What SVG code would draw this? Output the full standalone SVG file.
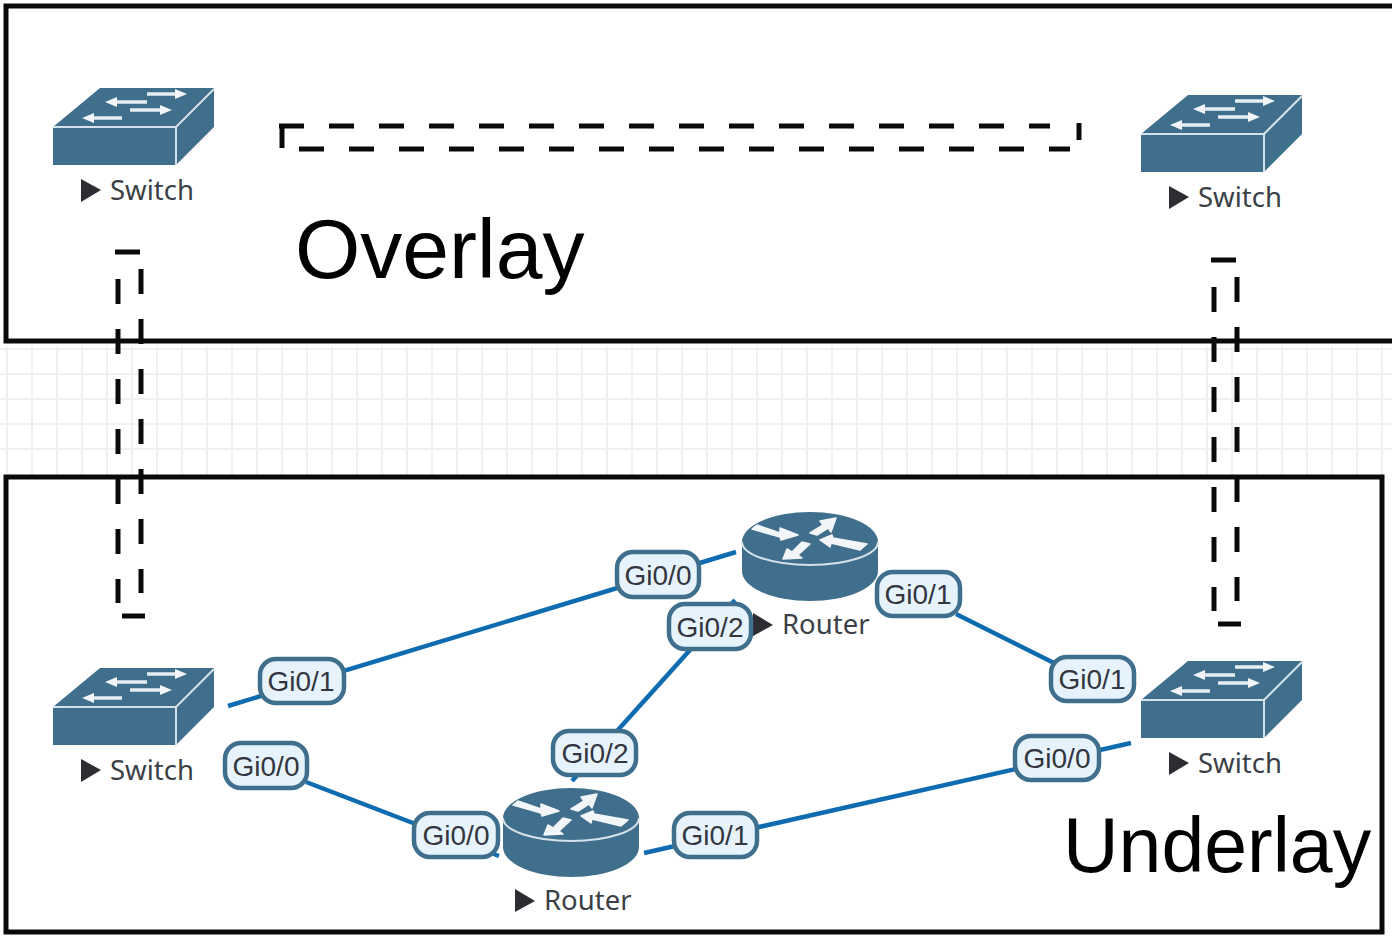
<svg xmlns="http://www.w3.org/2000/svg" width="1392" height="937" viewBox="0 0 1392 937">
<style>
.grid{stroke:#f0f0f4;stroke-width:2;fill:none}
.frame{fill:none;stroke:#0a0a0a;stroke-width:5}
.tunnel{fill:none;stroke:#0a0a0a;stroke-width:5;stroke-dasharray:25 25}
.solid{fill:none;stroke:#0a0a0a;stroke-width:5}
.link{stroke:#0f6cb0;stroke-width:4.5;fill:none}
.body{fill:#3f6f8c}
.edge{fill:none;stroke:#d5e2ea;stroke-width:2}
.arrow{fill:none;stroke:#e4edf2;stroke-width:3.5}
.head{fill:#f2f6f8}
.fat{fill:#f2f6f8;stroke:#f2f6f8;stroke-width:1.5;stroke-linejoin:round}
.name{font:27.5px "Noto Sans",sans-serif;fill:#3b3f46}
.tri{fill:#2b2d33}
.pill rect{fill:#e6f3fd;stroke:#3f6f8c;stroke-width:4.5}
.pill text{font:28px "Liberation Sans",Arial,sans-serif;fill:#33363f;text-anchor:middle}
.title{font-family:"Liberation Sans",Arial,sans-serif;fill:#000}
</style>
<defs>
<g id="switch-icon">
<path class="body" d="M0 39L47 0H161V39L123 77H0Z"/>
<path class="edge" d="M0 39H123L161 1M123 39V77"/>
<path class="arrow" d="M94 6H126M62 14H94M77 22H110M39 30H69"/>
<path class="head" d="M134 6L122 1V11ZM52 14L64 9V19ZM119 22L107 17V27ZM29 30L41 25V35Z"/>
</g>
<g id="router-icon">
<path class="body" d="M0 30A68 30 0 0 1 136 30V59A68 30 0 0 1 0 59Z"/>
<path class="edge" d="M0 30A68 23 0 0 0 136 30"/>
<path class="fat" d="M10 17L15 13L38 21L38 16L56 23L39 28L38 25ZM94 6L78 9L81 13L68 21L75 23L86 16L89 20ZM78 28L90 23L91 26L125 32L118 38L89 31L88 35ZM41 47L45 37L50 40L60 30L68 32L56 43L60 46Z"/>
</g>
</defs>
<g id="background-grid" class="grid">
<path d="M7 346V476M32 346V476M57 346V476M82 346V476M107 346V476M132 346V476M157 346V476M182 346V476M207 346V476M232 346V476M257 346V476M282 346V476M307 346V476M332 346V476M357 346V476M382 346V476M407 346V476M432 346V476M457 346V476M482 346V476M507 346V476M532 346V476M557 346V476M582 346V476M607 346V476M632 346V476M657 346V476M682 346V476M707 346V476M732 346V476M757 346V476M782 346V476M807 346V476M832 346V476M857 346V476M882 346V476M907 346V476M932 346V476M957 346V476M982 346V476M1007 346V476M1032 346V476M1057 346V476M1082 346V476M1107 346V476M1132 346V476M1157 346V476M1182 346V476M1207 346V476M1232 346V476M1257 346V476M1282 346V476M1307 346V476M1332 346V476M1357 346V476M1382 346V476"/>
<path d="M0 349H1392M0 374H1392M0 399H1392M0 424H1392M0 449H1392"/>
</g>
<g id="connectors">
<path class="link" d="M228 706L736 552"/>
<path class="link" d="M306 782L499 856"/>
<path class="link" d="M572 781L735 600"/>
<path class="link" d="M644 853L1131 743"/>
<path class="link" d="M956 614L1056 664"/>
</g>
<g id="overlay-region">
<rect class="frame" x="6" y="6" width="1392" height="335"/>
<text class="title" x="295" y="278" font-size="84">Overlay</text>
</g>
<g id="underlay-region">
<rect class="frame" x="6" y="477" width="1376" height="455"/>
<text class="title" x="1063" y="872" font-size="77">Underlay</text>
</g>
<g id="tunnels">
<!-- horizontal tunnel between the overlay switches -->
<path class="tunnel" d="M279 126H1050"/>
<path class="solid" d="M282 124V148"/>
<path class="tunnel" d="M299 149H1070"/>
<path class="solid" d="M1079 123V140"/>
<!-- vertical tunnel on the left -->
<path class="solid" d="M115 252H140M122 616H145"/>
<path class="tunnel" d="M118 279V603"/>
<path class="tunnel" d="M141 269V593"/>
<!-- vertical tunnel on the right -->
<path class="solid" d="M1211 260H1236M1218 624H1241"/>
<path class="tunnel" d="M1214 287V611"/>
<path class="tunnel" d="M1237 277V601"/>
</g>
<g id="switch-overlay-left"><use href="#switch-icon" x="53" y="88"/><path class="tri" d="M81 179L101 190L81 202Z"/><text class="name" x="110" y="200">Switch</text></g>
<g id="switch-overlay-right"><use href="#switch-icon" x="1141" y="95"/><path class="tri" d="M1169 186L1189 197L1169 209Z"/><text class="name" x="1198" y="207">Switch</text></g>
<g id="switch-underlay-left"><use href="#switch-icon" x="53" y="668"/><path class="tri" d="M81 759L101 770L81 782Z"/><text class="name" x="110" y="780">Switch</text></g>
<g id="switch-underlay-right"><use href="#switch-icon" x="1141" y="661"/><path class="tri" d="M1169 752L1189 763L1169 775Z"/><text class="name" x="1198" y="773">Switch</text></g>
<g id="router-top"><use href="#router-icon" x="742" y="512"/><path class="tri" d="M753 613L773 625L753 636Z"/><text class="name" x="782" y="634">Router</text></g>
<g id="router-bottom"><use href="#router-icon" x="503" y="788"/><path class="tri" d="M515 889L535 901L515 912Z"/><text class="name" x="544" y="910">Router</text></g>
<g id="port-labels">
<g class="pill"><rect x="260" y="659" width="84" height="44" rx="16"/><text x="301" y="691">Gi0/1</text></g>
<g class="pill"><rect x="225" y="743" width="82" height="45" rx="16"/><text x="266" y="776">Gi0/0</text></g>
<g class="pill"><rect x="414" y="813" width="84" height="44" rx="16"/><text x="456" y="845">Gi0/0</text></g>
<g class="pill"><rect x="553" y="731" width="83" height="44" rx="16"/><text x="595" y="763">Gi0/2</text></g>
<g class="pill"><rect x="674" y="813" width="83" height="44" rx="16"/><text x="715" y="845">Gi0/1</text></g>
<g class="pill"><rect x="617" y="552" width="82" height="45" rx="16"/><text x="658" y="585">Gi0/0</text></g>
<g class="pill"><rect x="669" y="604" width="82" height="45" rx="16"/><text x="710" y="637">Gi0/2</text></g>
<g class="pill"><rect x="877" y="572" width="83" height="44" rx="16"/><text x="918" y="604">Gi0/1</text></g>
<g class="pill"><rect x="1051" y="657" width="83" height="44" rx="16"/><text x="1092" y="689">Gi0/1</text></g>
<g class="pill"><rect x="1015" y="736" width="84" height="44" rx="16"/><text x="1057" y="768">Gi0/0</text></g>
</g>
</svg>
